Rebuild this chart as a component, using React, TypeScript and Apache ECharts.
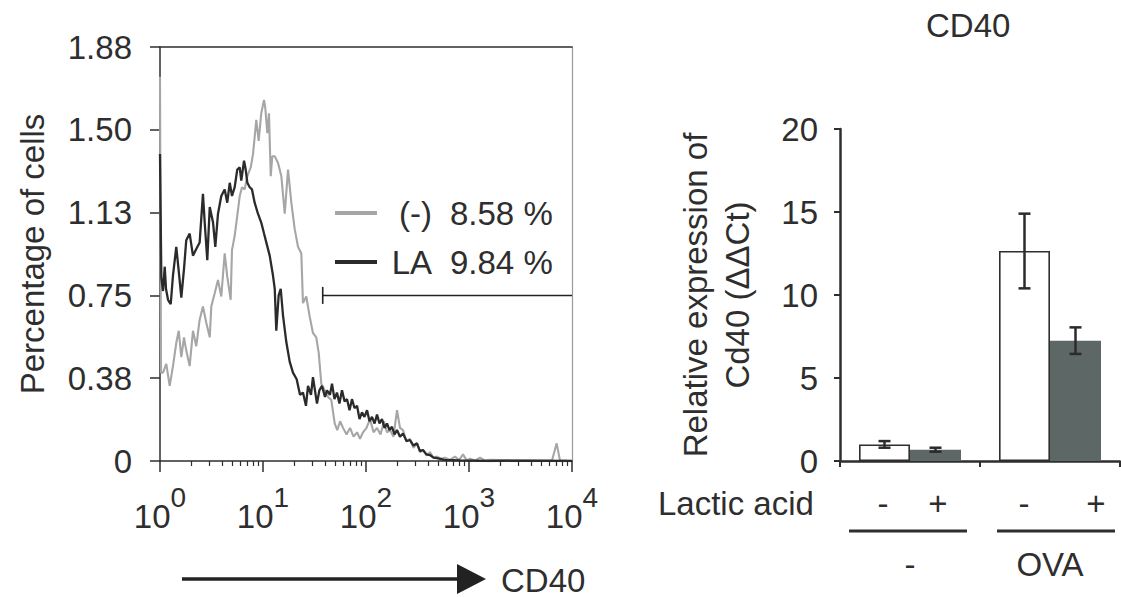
import React, { useEffect, useRef } from 'react';
import * as echarts from 'echarts';

const FONT = '"Liberation Sans", Arial, Helvetica, sans-serif';
const INK = '#2e2e2e';
const FS = 33;

// ---------------- Left panel: CD40 histogram ----------------
const yTickLabels = ['0', '0.38', '0.75', '1.13', '1.50', '1.88'];
const yStep = 0.375;
const yTop = 1.875;
const xMin = 1;
const xMax = 10000;
const xTickExponents = ['0', '1', '2', '3', '4'];
const minorTickValues = [
  2, 3, 4, 5, 6, 7, 8, 9,
  20, 30, 40, 50, 60, 70, 80, 90,
  200, 300, 400, 500, 600, 700, 800, 900,
  2000, 3000, 4000, 5000, 6000, 7000, 8000, 9000,
];

// (-) control : log10(CD40 intensity) and % of cells
const ctrlLog = [
  0.000, 0.010, 0.029, 0.061, 0.094, 0.126, 0.158, 0.182, 0.207, 0.233,
  0.255, 0.288, 0.320, 0.352, 0.385, 0.417, 0.450, 0.483, 0.498, 0.531,
  0.563, 0.595, 0.628, 0.653, 0.686, 0.699, 0.725, 0.750, 0.774, 0.796,
  0.822, 0.848, 0.881, 0.903, 0.935, 0.958, 0.983, 1.010, 1.022, 1.042,
  1.058, 1.075, 1.090, 1.114, 1.146, 1.178, 1.211, 1.243, 1.275, 1.308,
  1.340, 1.372, 1.388, 1.420, 1.453, 1.485, 1.517, 1.541, 1.566, 1.599,
  1.631, 1.663, 1.696, 1.721, 1.749, 1.777, 1.811, 1.845, 1.879, 1.913,
  1.942, 1.971, 2.005, 2.039, 2.073, 2.107, 2.141, 2.175, 2.204, 2.233,
  2.267, 2.301, 2.330, 2.359, 2.393, 2.427, 2.461, 2.495, 2.524, 2.553,
  2.587, 2.621, 2.655, 2.689, 2.728, 2.767, 2.815, 2.864, 2.903, 2.942,
  2.976, 3.010, 3.058, 3.107, 3.155, 3.204, 3.398, 3.592, 3.806, 3.851,
  3.883, 4.000,
];
const ctrlPct = [
  1.74, 0.40, 0.40, 0.44, 0.34, 0.43, 0.535, 0.59, 0.47, 0.56,
  0.50, 0.43, 0.59, 0.52, 0.64, 0.70, 0.625, 0.56, 0.70, 0.76,
  0.82, 0.745, 0.94, 0.835, 0.73, 0.955, 1.02, 1.11, 1.20, 1.24,
  1.23, 1.29, 1.33, 1.39, 1.545, 1.45, 1.575, 1.635, 1.60, 1.485,
  1.575, 1.29, 1.38, 1.38, 1.35, 1.29, 1.12, 1.32, 1.17, 1.05,
  0.97, 0.94, 0.715, 0.745, 0.655, 0.58, 0.56, 0.49, 0.35, 0.32,
  0.29, 0.277, 0.17, 0.14, 0.18, 0.15, 0.12, 0.15, 0.11, 0.13,
  0.10, 0.13, 0.15, 0.19, 0.13, 0.15, 0.12, 0.18, 0.13, 0.14,
  0.11, 0.23, 0.15, 0.14, 0.09, 0.10, 0.06, 0.08, 0.04, 0.05,
  0.025, 0.04, 0.015, 0.02, 0.01, 0.015, 0.005, 0.02, 0.004, 0.03,
  0.003, 0.01, 0.002, 0.015, 0.002, 0.005, 0.003, 0.002, 0.002, 0.08,
  0.003, 0,
];

// LA (lactic acid)
const laLog = [
  0.000, 0.013, 0.029, 0.046, 0.058, 0.078, 0.104, 0.126, 0.158, 0.182,
  0.207, 0.233, 0.255, 0.288, 0.320, 0.352, 0.385, 0.417, 0.434, 0.459,
  0.483, 0.515, 0.537, 0.563, 0.595, 0.628, 0.653, 0.677, 0.699, 0.725,
  0.750, 0.774, 0.789, 0.816, 0.832, 0.848, 0.871, 0.893, 0.919, 0.951,
  0.983, 1.010, 1.032, 1.065, 1.097, 1.114, 1.129, 1.152, 1.172, 1.194,
  1.226, 1.259, 1.291, 1.327, 1.359, 1.388, 1.417, 1.437, 1.466, 1.485,
  1.524, 1.547, 1.573, 1.602, 1.621, 1.650, 1.670, 1.694, 1.718, 1.742,
  1.767, 1.792, 1.816, 1.840, 1.864, 1.888, 1.913, 1.937, 1.961, 1.985,
  2.010, 2.034, 2.058, 2.083, 2.107, 2.131, 2.155, 2.180, 2.204, 2.228,
  2.252, 2.277, 2.301, 2.330, 2.359, 2.393, 2.427, 2.461, 2.495, 2.524,
  2.553, 2.587, 2.621, 2.655, 2.689, 2.757, 2.913, 3.204, 3.495, 4.000,
];
const laPct = [
  1.39, 0.83, 0.77, 0.88, 0.78, 0.73, 0.71, 0.84, 0.97, 0.86,
  0.74, 0.87, 1.00, 1.03, 0.93, 0.96, 0.99, 1.21, 1.08, 0.91,
  1.15, 1.08, 0.97, 1.12, 1.20, 1.23, 1.17, 1.26, 1.20, 1.24,
  1.32, 1.33, 1.27, 1.36, 1.32, 1.26, 1.24, 1.23, 1.17, 1.12,
  1.08, 1.03, 0.99, 0.93, 0.84, 0.78, 0.59, 0.75, 0.78, 0.66,
  0.54, 0.45, 0.40, 0.37, 0.30, 0.31, 0.25, 0.34, 0.30, 0.38,
  0.26, 0.32, 0.34, 0.29, 0.32, 0.30, 0.35, 0.28, 0.31, 0.26,
  0.32, 0.27, 0.28, 0.23, 0.28, 0.24, 0.25, 0.19, 0.22, 0.20,
  0.23, 0.18, 0.20, 0.17, 0.21, 0.17, 0.19, 0.15, 0.17, 0.14,
  0.155, 0.12, 0.14, 0.11, 0.125, 0.09, 0.095, 0.07, 0.08, 0.045,
  0.05, 0.03, 0.027, 0.015, 0.013, 0.005, 0.003, 0, 0.002, 0,
];

const legendNames = ['(-)', 'LA'];
const legendPercents = ['8.58 %', '9.84 %'];
const gateFrom = 38;
const gateTo = 10000;
const gateLevel = 0.75;

// ---------------- Right panel: Cd40 qPCR bars ----------------
const groups = ['-', 'OVA'];
const lacticSigns = ['-', '+', '-', '+'];
const noLactic = [1.0, 12.65];
const noLacticErr = [0.2, 2.25];
const withLactic = [0.68, 7.25];
const withLacticErr = [0.12, 0.8];
const barYMax = 20;
const barYStep = 5;

// layout constants (not data)
const SIGN_X = [883, 938, 1024, 1096];
const BAR_W = 51;

function buildOption() {
  const ctrlData = ctrlLog.map((e, i) => [Math.pow(10, e), ctrlPct[i]]);
  const laData = laLog.map((e, i) => [Math.pow(10, e), laPct[i]]);
  const errData: number[][] = [];
  noLactic.forEach((v, i) => errData.push([i, v, noLacticErr[i], -1]));
  withLactic.forEach((v, i) => errData.push([i, v, withLacticErr[i], 1]));

  const txt = { fontFamily: FONT, color: INK };

  return {
    animation: false,
    backgroundColor: '#ffffff',
    textStyle: { fontFamily: FONT },
    title: {
      text: 'CD40',
      left: 926,
      top: 9,
      padding: 0,
      textStyle: { fontSize: FS, fontWeight: 'normal', color: INK, fontFamily: FONT },
    },
    legend: {
      data: legendNames,
      orient: 'vertical',
      left: 335,
      top: 195,
      padding: 0,
      itemWidth: 42,
      itemHeight: 4,
      itemGap: 13,
      icon: 'rect',
      selectedMode: false,
      formatter: (name: string) => {
        const i = legendNames.indexOf(name);
        return `{n|${name}}{v|${legendPercents[i]}}`;
      },
      textStyle: {
        fontSize: FS,
        lineHeight: 36,
        ...txt,
        rich: {
          n: { width: 50, align: 'right', fontSize: FS, lineHeight: 36, ...txt },
          v: { align: 'right', padding: [0, 0, 0, 18], fontSize: FS, lineHeight: 36, ...txt },
        },
      },
    },
    grid: [
      { left: 160, top: 47, width: 412, height: 414 },
      { left: 840, top: 129, width: 280, height: 332 },
    ],
    xAxis: [
      {
        gridIndex: 0,
        type: 'log',
        logBase: 10,
        min: xMin,
        max: xMax,
        position: 'bottom',
        axisLine: { show: true, lineStyle: { color: INK, width: 1.5 } },
        axisTick: { show: true, length: 11, lineStyle: { color: INK, width: 1.5 } },
        splitLine: { show: false },
        axisLabel: {
          margin: 22,
          formatter: (v: number) => {
            const k = Math.round(Math.log10(v));
            return `{b|10}{s|${xTickExponents[k]}}`;
          },
          rich: {
            b: { fontSize: FS, lineHeight: 50, verticalAlign: 'bottom', ...txt },
            s: { fontSize: 28, lineHeight: 26, verticalAlign: 'top', ...txt },
          },
        },
      },
      {
        gridIndex: 0,
        type: 'log',
        logBase: 10,
        min: xMin,
        max: xMax,
        position: 'bottom',
        axisLine: { show: false },
        axisTick: {
          show: true,
          length: 5,
          customValues: minorTickValues,
          lineStyle: { color: INK, width: 1.2 },
        },
        axisLabel: { show: false },
        splitLine: { show: false },
      },
      {
        gridIndex: 0,
        type: 'value',
        min: 0,
        max: 1,
        position: 'top',
        axisLine: { show: true, lineStyle: { color: INK, width: 1.5 } },
        axisTick: { show: false },
        axisLabel: { show: false },
        splitLine: { show: false },
      },
      {
        gridIndex: 1,
        type: 'category',
        data: groups,
        axisLine: { show: true, lineStyle: { color: INK, width: 2.5 } },
        axisTick: { show: true, length: 6, lineStyle: { color: INK, width: 2 } },
        axisLabel: { margin: 87, fontSize: FS, ...txt },
        splitLine: { show: false },
      },
    ],
    yAxis: [
      {
        gridIndex: 0,
        type: 'value',
        min: 0,
        max: yTop,
        interval: yStep,
        axisLine: { show: true, lineStyle: { color: INK, width: 1.5 } },
        axisTick: { show: true, length: 10, lineStyle: { color: INK, width: 1.5 } },
        splitLine: { show: false },
        axisLabel: {
          margin: 28,
          fontSize: FS,
          ...txt,
          formatter: (v: number) => yTickLabels[Math.round(v / yStep)] ?? '',
        },
        name: 'Percentage of cells',
        nameLocation: 'middle',
        nameGap: 111,
        nameTextStyle: { fontSize: FS, ...txt },
      },
      {
        gridIndex: 0,
        type: 'value',
        min: 0,
        max: 1,
        position: 'right',
        axisLine: { show: true, lineStyle: { color: '#9a9a9a', width: 1.2 } },
        axisTick: { show: false },
        axisLabel: { show: false },
        splitLine: { show: false },
      },
      {
        gridIndex: 1,
        type: 'value',
        min: 0,
        max: barYMax,
        interval: barYStep,
        axisLine: { show: true, lineStyle: { color: INK, width: 2.5 } },
        axisTick: { show: true, length: 6, lineStyle: { color: INK, width: 2 } },
        splitLine: { show: false },
        axisLabel: { margin: 22, fontSize: FS, ...txt },
        name: 'Relative expression of\nCd40 (ΔΔCt)',
        nameLocation: 'middle',
        nameGap: 82,
        nameTextStyle: { fontSize: FS, lineHeight: 42, align: 'center', ...txt },
      },
    ],
    series: [
      {
        name: '(-)',
        type: 'line',
        xAxisIndex: 0,
        yAxisIndex: 0,
        data: ctrlData,
        symbol: 'none',
        showSymbol: false,
        lineStyle: { color: '#a6a6a6', width: 2.1 },
        itemStyle: { color: '#a6a6a6' },
        z: 2,
      },
      {
        name: 'LA',
        type: 'line',
        xAxisIndex: 0,
        yAxisIndex: 0,
        data: laData,
        symbol: 'none',
        showSymbol: false,
        lineStyle: { color: '#2b2b2b', width: 2.3 },
        itemStyle: { color: '#2b2b2b' },
        z: 3,
      },
      {
        name: 'gate',
        type: 'line',
        xAxisIndex: 0,
        yAxisIndex: 0,
        showSymbol: true,
        data: [
          { value: [gateFrom, gateLevel], symbol: 'rect', symbolSize: [1.6, 17] },
          { value: [gateTo, gateLevel], symbol: 'none' },
        ],
        lineStyle: { color: '#222', width: 1.5 },
        itemStyle: { color: '#222' },
        silent: true,
        z: 4,
      },
      {
        name: 'Lactic acid -',
        type: 'bar',
        xAxisIndex: 3,
        yAxisIndex: 2,
        data: noLactic,
        barWidth: BAR_W,
        barGap: '0%',
        itemStyle: { color: '#ffffff', borderColor: INK, borderWidth: 1.6 },
      },
      {
        name: 'Lactic acid +',
        type: 'bar',
        xAxisIndex: 3,
        yAxisIndex: 2,
        data: withLactic,
        barWidth: BAR_W,
        barGap: '0%',
        itemStyle: { color: '#5d6866' },
      },
      {
        name: 'error',
        type: 'custom',
        xAxisIndex: 3,
        yAxisIndex: 2,
        data: errData,
        encode: { x: 0, y: 1 },
        z: 5,
        silent: true,
        renderItem: (params: any, api: any) => {
          const cat = api.value(0);
          const v = api.value(1);
          const e = api.value(2);
          const side = api.value(3);
          const top = api.coord([cat, v + e]);
          const bot = api.coord([cat, v - e]);
          const x = top[0] + (side * BAR_W) / 2;
          const cap = 6;
          const st = { stroke: '#2b2b2b', lineWidth: 2.5 };
          return {
            type: 'group',
            children: [
              { type: 'line', shape: { x1: x, y1: top[1], x2: x, y2: bot[1] }, style: st },
              { type: 'line', shape: { x1: x - cap, y1: top[1], x2: x + cap, y2: top[1] }, style: st },
              { type: 'line', shape: { x1: x - cap, y1: bot[1], x2: x + cap, y2: bot[1] }, style: st },
            ],
          };
        },
      },
    ],
    graphic: [
      { type: 'line', shape: { x1: 182, y1: 579, x2: 459, y2: 579 }, style: { stroke: '#222', lineWidth: 3.5 } },
      { type: 'polygon', shape: { points: [[457, 564], [486, 579], [457, 594]] }, style: { fill: '#222' } },
      {
        type: 'text',
        x: 501,
        y: 580,
        style: { text: 'CD40', fontSize: FS, fontFamily: FONT, fill: INK, verticalAlign: 'middle' },
      },
      {
        type: 'text',
        x: 658,
        y: 503,
        style: { text: 'Lactic acid', fontSize: FS, fontFamily: FONT, fill: INK, verticalAlign: 'middle' },
      },
      ...lacticSigns.map((s, i) => ({
        type: 'text',
        x: SIGN_X[i],
        y: 503,
        style: { text: s, fontSize: FS, fontFamily: FONT, fill: INK, align: 'center', verticalAlign: 'middle' },
      })),
      { type: 'rect', shape: { x: 849, y: 529.5, width: 118, height: 3 }, style: { fill: INK } },
      { type: 'rect', shape: { x: 997, y: 529.5, width: 118, height: 3 }, style: { fill: INK } },
    ],
  };
}

export default function App() {
  const ref = useRef<HTMLDivElement>(null);
  useEffect(() => {
    if (!ref.current) return;
    const chart = echarts.init(ref.current, undefined, { renderer: 'svg' });
    chart.setOption(buildOption() as any);
    return () => chart.dispose();
  }, []);
  return (
    <div
      ref={ref}
      style={{ position: 'absolute', left: 0, top: 0, width: 1121, height: 597, background: '#fff' }}
    />
  );
}
